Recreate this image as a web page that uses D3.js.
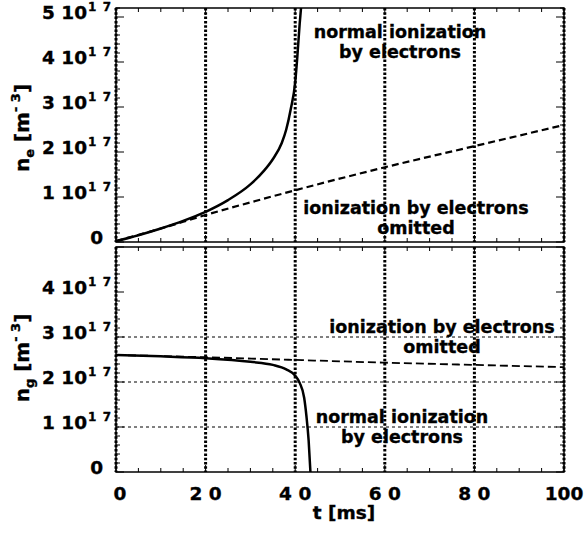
<!DOCTYPE html>
<html>
<head>
<meta charset="utf-8">
<script src="https://cdn.jsdelivr.net/npm/d3@7"></script>
<style>
  body { margin: 0; background: #fff; }
  svg { display: block; }
  text { font-family: "DejaVu Sans", "Liberation Sans", Arial, sans-serif; font-weight: bold; fill: #000;
         stroke: #000; stroke-width: 0.35px; }
</style>
</head>
<body>
<svg id="chart" width="584" height="533"></svg>
<script>
// values in units of 10^17 m^-3, time in ms
const neNormalT = [0, 5, 10, 15, 20, 25, 30, 33, 35, 37, 38, 39, 40, 40.5, 41, 41.3, 41.6];
const neNormal  = [0.02, 0.15, 0.3, 0.47, 0.67, 0.93, 1.28, 1.58, 1.84, 2.2, 2.5, 2.95, 3.55, 4.15, 4.85, 5.2, 5.6];
const neOmitT = [0, 10, 20, 30, 40, 60, 80, 100];
const neOmit  = [0.02, 0.3, 0.6, 0.88, 1.15, 1.66, 2.13, 2.6];

const ngNormalT = [0, 10, 20, 30, 35, 38, 40, 41, 42, 42.5, 43, 43.4];
const ngNormal  = [2.6, 2.57, 2.53, 2.45, 2.38, 2.28, 2.14, 1.98, 1.65, 1.25, 0.7, 0];
const ngOmitT = [0, 20, 40, 60, 80, 100];
const ngOmit  = [2.6, 2.55, 2.49, 2.43, 2.38, 2.33];

const xTicks = [0, 20, 40, 60, 80, 100];
const xTickLabels = ["0", "2 0", "4 0", "6 0", "8 0", "100"];
const yTicks = [0, 1, 2, 3, 4, 5];
const yTickLabels = ["0", "1 10", "2 10", "3 10", "4 10", "5 10"];
const ngGrid = [1, 2, 3];

const svg = d3.select("#chart");

const x = d3.scaleLinear().domain([0, 100]).range([116, 564]);

const panels = [
    {id: "top", y: d3.scaleLinear().domain([0, 5.2]).range([242, 8]), labels: [0, 1, 2, 3, 4, 5],
     sym: "e", hgrid: [], tc: 128},
    {id: "bot", y: d3.scaleLinear().domain([0, 5]).range([472, 247]), labels: [0, 1, 2, 3, 4],
     sym: "g", hgrid: ngGrid, tc: 358}
];

function drawPanel(p) {
    const g = svg.append("g").attr("class", p.id);
    const [yb, yt] = p.y.range();

    g.append("clipPath").attr("id", "clip-" + p.id)
        .append("rect").attr("x", x(0)).attr("y", yt).attr("width", x(100) - x(0)).attr("height", yb - yt);

    // horizontal grid
    g.selectAll(".hg").data(p.hgrid).enter().append("line")
        .attr("x1", x(0)).attr("x2", x(100))
        .attr("y1", d => p.y(d)).attr("y2", d => p.y(d))
        .attr("stroke", "#000").attr("stroke-width", 1).attr("stroke-dasharray", "3,3");

    // vertical grid (thick dotted)
    g.selectAll(".vg").data(xTicks).enter().append("line")
        .attr("x1", d => x(d)).attr("x2", d => x(d))
        .attr("y1", yt).attr("y2", yb)
        .attr("stroke", "#000").attr("stroke-width", 3).attr("stroke-dasharray", "2.5,1.8");

    // frame
    g.append("rect").attr("x", x(0)).attr("y", yt).attr("width", x(100) - x(0)).attr("height", yb - yt)
        .attr("fill", "none").attr("stroke", "#000").attr("stroke-width", 1.5);

    // x ticks top and bottom
    const xMinor = d3.range(0, 100.01, 5);
    g.selectAll(".xtb").data(xMinor).enter().append("line")
        .attr("x1", d => x(d)).attr("x2", d => x(d))
        .attr("y1", yb).attr("y2", d => yb - (d % 20 === 0 ? 7 : 4))
        .attr("stroke", "#000").attr("stroke-width", 1);
    g.selectAll(".xtt").data(xMinor).enter().append("line")
        .attr("x1", d => x(d)).attr("x2", d => x(d))
        .attr("y1", yt).attr("y2", d => yt + (d % 20 === 0 ? 7 : 4))
        .attr("stroke", "#000").attr("stroke-width", 1);

    // y ticks left and right
    const yMinor = d3.range(0, p.y.domain()[1] + 0.001, 0.2);
    const isMajor = d => Math.abs(d - Math.round(d)) < 0.01;
    g.selectAll(".ytl").data(yMinor).enter().append("line")
        .attr("x1", x(0)).attr("x2", d => x(0) + (isMajor(d) ? 8 : 4))
        .attr("y1", d => p.y(d)).attr("y2", d => p.y(d))
        .attr("stroke", "#000").attr("stroke-width", 1);
    g.selectAll(".ytr").data(yMinor).enter().append("line")
        .attr("x1", x(100)).attr("x2", d => x(100) - (isMajor(d) ? 8 : 4))
        .attr("y1", d => p.y(d)).attr("y2", d => p.y(d))
        .attr("stroke", "#000").attr("stroke-width", 1);

    // y tick labels
    p.labels.forEach(v => {
        const t = g.append("text")
            .attr("x", v === 0 ? 103 : 112).attr("y", p.y(v) + 2)
            .attr("text-anchor", "end").attr("font-size", 18.5);
        t.append("tspan").text(yTickLabels[yTicks.indexOf(v)]);
        if (v !== 0) {
            t.append("tspan").attr("dy", -8).attr("dx", 1).attr("font-size", 12)
                .attr("letter-spacing", 1).text("1 7");
        }
    });

    // y axis title
    const title = g.append("text")
        .attr("transform", `translate(29,${p.tc}) rotate(-90)`)
        .attr("text-anchor", "middle").attr("font-size", 20);
    title.append("tspan").text("n");
    title.append("tspan").attr("dy", 5).attr("font-size", 13).text(p.sym);
    title.append("tspan").attr("dy", -5).text(" [m");
    title.append("tspan").attr("dy", -9).attr("font-size", 13).text("- 3");
    title.append("tspan").attr("dy", 9).text("]");

    return g;
}

const gTop = drawPanel(panels[0]);
const gBot = drawPanel(panels[1]);

function series(g, p, ts, vs, dash, width) {
    const line = d3.line().x(d => x(d[0])).y(d => p.y(d[1])).curve(d3.curveMonotoneX);
    g.append("path").datum(d3.zip(ts, vs))
        .attr("d", line)
        .attr("clip-path", `url(#clip-${p.id})`)
        .attr("fill", "none").attr("stroke", "#000")
        .attr("stroke-width", width)
        .attr("stroke-dasharray", dash);
}

series(gTop, panels[0], neOmitT, neOmit, "7,4", 2.2);
series(gTop, panels[0], neNormalT, neNormal, null, 2.5);
series(gBot, panels[1], ngOmitT, ngOmit, "8,4", 1.8);
series(gBot, panels[1], ngNormalT, ngNormal, null, 2.5);

// annotations
function label(lines, cx, ys) {
    lines.forEach((s, i) => {
        svg.append("text").attr("x", cx).attr("y", ys[i])
            .attr("text-anchor", "middle").attr("font-size", 17.5).text(s);
    });
}
label(["normal ionization", "by electrons"], 400, [38, 58]);
label(["ionization by electrons", "omitted"], 416, [214, 234]);
label(["ionization by electrons", "omitted"], 442, [333, 353]);
label(["normal ionization", "by electrons"], 402, [423, 443]);

// x tick labels
svg.selectAll(".xl").data(xTicks).enter().append("text")
    .attr("x", d => x(d) + (d === 0 ? 4 : 0)).attr("y", 500)
    .attr("text-anchor", "middle").attr("font-size", 18.5)
    .text((d, i) => xTickLabels[i]);

svg.append("text").attr("x", 344).attr("y", 519)
    .attr("text-anchor", "middle").attr("font-size", 18.5).text("t [ms]");
</script>
</body>
</html>
